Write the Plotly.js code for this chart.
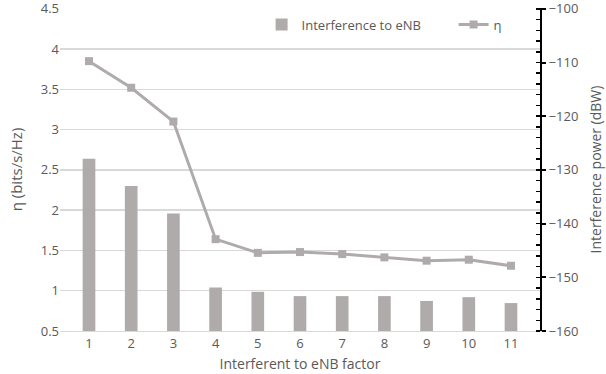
<!DOCTYPE html>
<html>
<head>
<meta charset="utf-8">
<script src="https://cdn.plot.ly/plotly-3.0.1.min.js"></script>
<style>
  html, body { margin: 0; padding: 0; background: #fff; }
  #chart { width: 606px; height: 374px; }
</style>
</head>
<body>
<div id="chart"></div>
<script>
const FACTORS = ['1', '2', '3', '4', '5', '6', '7', '8', '9', '10', '11'];
const INTERFERENCE_DBW = [-127.9, -133.0, -138.1, -151.9, -152.7, -153.5, -153.5, -153.5, -154.4, -153.7, -154.8];
const ETA = [3.85, 3.52, 3.10, 1.64, 1.47, 1.48, 1.455, 1.414, 1.373, 1.385, 1.31];

const BAR_BASE = -160;
const GREY = '#afabab';
const TEXT = '#595959';
const FONT = 'Open Sans, Liberation Sans, sans-serif';

// bars grow up from the bottom of the dBW axis
const bars = {
  x: FACTORS,
  y: INTERFERENCE_DBW.map(v => v - BAR_BASE),
  base: BAR_BASE,
  type: 'bar',
  name: 'Interference to eNB',
  yaxis: 'y2',
  width: 0.3,
  marker: { color: GREY },
};

const line = {
  x: FACTORS,
  y: ETA,
  type: 'scatter',
  mode: 'lines+markers',
  name: 'η',
  legend: 'legend2',
  line: { color: GREY, width: 3 },
  marker: { color: GREY, symbol: 'square', size: 8 },
};

const LEGEND_STYLE = {
  orientation: 'h',
  y: 0.995, xanchor: 'left', yanchor: 'top',
  font: { size: 13, color: TEXT },
  bgcolor: 'rgba(0,0,0,0)',
};

const layout = {
  width: 606,
  height: 374,
  margin: { l: 60, r: 66, t: 8, b: 43 },
  paper_bgcolor: '#fff',
  plot_bgcolor: '#fff',
  font: { family: FONT, size: 12, color: TEXT },
  showlegend: true,
  legend: { ...LEGEND_STYLE, x: 0.42 },
  legend2: { ...LEGEND_STYLE, x: 0.82 },
  xaxis: {
    type: 'category',
    showgrid: false,
    showline: true,
    linecolor: '#d9d9d9',
    ticks: '',
    tickfont: { size: 13, color: TEXT },
    title: { text: 'Interferent to eNB factor', font: { size: 14, color: TEXT }, standoff: 8 },
  },
  yaxis: {
    // a hair above 4.5 so the top gridline and label are kept
    range: [0.5, 4.51],
    dtick: 0.5,
    showgrid: true,
    gridcolor: '#d9d9d9',
    gridwidth: 1.5,
    zeroline: false,
    ticks: '',
    ticklabeloverflow: 'allow',
    tickfont: { size: 13, color: TEXT },
    title: { text: 'η (bits/s/Hz)', font: { size: 15, color: TEXT }, standoff: 14 },
  },
  yaxis2: {
    overlaying: 'y',
    side: 'right',
    range: [-160, -99.85],
    dtick: 10,
    showgrid: false,
    zeroline: false,
    showline: true,
    linecolor: '#000',
    linewidth: 2,
    ticks: 'outside',
    ticklen: 4,
    tickwidth: 2,
    tickcolor: '#000',
    ticklabeloverflow: 'allow',
    minor: { dtick: 2, ticks: 'inside', ticklen: 4, tickcolor: '#000', tickwidth: 1.5 },
    tickfont: { size: 13, color: TEXT },
    title: { text: 'Interference power (dBW)', font: { size: 14, color: TEXT }, standoff: 14 },
  },
};

Plotly.newPlot('chart', [bars, line], layout, { displayModeBar: false, staticPlot: true });
</script>
</body>
</html>
